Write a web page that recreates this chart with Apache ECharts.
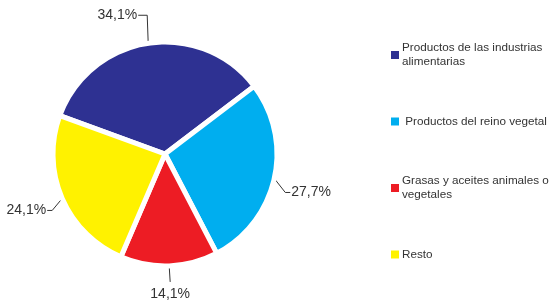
<!DOCTYPE html>
<html>
<head>
<meta charset="utf-8">
<script src="https://cdn.jsdelivr.net/npm/echarts@6/dist/echarts.min.js"></script>
<style>
  html, body { margin: 0; padding: 0; background: #fff; }
  #chartBox { width: 550px; height: 307px; }
</style>
</head>
<body>
<div id="chartBox"></div>
<script>
// categories and shares (%)
let categories = [
  'Productos de las industrias\nalimentarias',
  ' Productos del reino vegetal',
  'Grasas y aceites animales o\nvegetales',
  'Resto'
]
let values = [34.1, 27.7, 14.1, 24.1]
let colors = ['#2E3192', '#00AEEF', '#ED1C24', '#FFF200']

// leader line shape per slice: first segment offset, then horizontal tail
let elbow = [[-1, -28], [11, 14], [1, 16], [-10, 12]]
let tail = [-9, 5, 0, -5]

let myChart = echarts.init(document.getElementById('chartBox'))

myChart.setOption({
  animation: false,
  legend: {
    orient: 'vertical',
    left: 386,
    top: 29,
    itemWidth: 8,
    itemHeight: 8,
    itemGap: 38.5,
    icon: 'rect',
    selectedMode: false,
    textStyle: {
      fontFamily: 'Liberation Sans',
      fontSize: 11.7,
      lineHeight: 14,
      color: '#333'
    },
    data: categories.map(function (name, i) {
      let twoLines = name.indexOf('\n') >= 0
      return {
        name: name,
        itemStyle: { color: colors[i], borderColor: colors[i], borderWidth: 0 },
        textStyle: { padding: twoLines ? [14, 0, 0, -2] : [0, 0, 0, -2] }
      }
    })
  },
  series: [{
    type: 'pie',
    center: [165, 154],
    radius: 112,
    startAngle: 160,
    clockwise: true,
    itemStyle: {
      borderColor: '#fff',
      borderWidth: 5
    },
    label: {
      fontFamily: 'Liberation Sans',
      fontSize: 14,
      color: '#333',
      width: 60,
      formatter: function (p) {
        return p.value.toFixed(1).replace('.', ',') + '%'
      }
    },
    labelLine: {
      lineStyle: { color: '#333', width: 1 }
    },
    labelLayout: function (params) {
      let i = params.dataIndex
      let p0 = params.labelLinePoints[0]
      let p1 = [p0[0] + elbow[i][0], p0[1] + elbow[i][1]]
      let p2 = [p1[0] + tail[i], p1[1]]
      if (tail[i] === 0) {
        return {
          x: p2[0], y: p2[1] + 12,
          align: 'center', verticalAlign: 'middle',
          labelLinePoints: [p0, p1, p2]
        }
      }
      return {
        x: p2[0] + (tail[i] < 0 ? -1 : 1),
        y: p2[1],
        align: tail[i] < 0 ? 'right' : 'left',
        verticalAlign: 'middle',
        labelLinePoints: [p0, p1, p2]
      }
    },
    data: values.map(function (v, i) {
      return {
        name: categories[i],
        value: v,
        itemStyle: { color: colors[i] }
      }
    })
  }]
})
</script>
</body>
</html>
